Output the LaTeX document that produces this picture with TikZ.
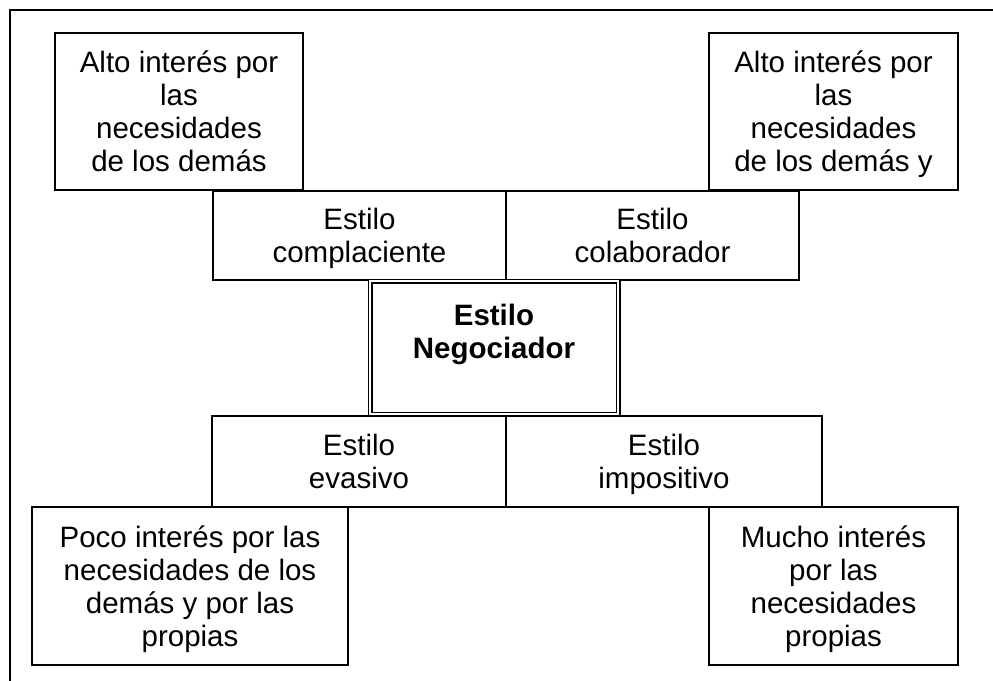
\documentclass[tikz,border=0pt]{standalone}
\usepackage{fontspec}
\setmainfont{Liberation Sans}
\usepackage{tikz}
\usetikzlibrary{calc}
\usetikzlibrary{positioning}

\tikzset{
  caja/.style 2 args={draw, line width=0.7pt, inner sep=0pt, outer sep=0pt,
    minimum width=#1, minimum height=#2, align=center, text depth=0pt,
    font=\fontsize{14.75}{16.5}\selectfont},
  cajadoble/.style={double, double distance=1.3pt, line width=0.6pt}
}

\begin{document}
\begin{tikzpicture}[x=0.5pt,y=-0.5pt]
        \useasboundingbox (0,0) rectangle (993,681);
        % marco exterior
        \draw[line width=0.7pt] (10,681) -- (10,10) -- (993,10);
        % cuadros de arriba
        \node[caja={124pt}{78.5pt}] (altoI) at (179,111.5) {Alto interés por\\las\\necesidades\\de los demás};
        \node[caja={124.5pt}{78.5pt}] (altoD) at (833.5,111.5) {Alto interés por\\las\\necesidades\\de los demás y};
        \node[caja={146.5pt}{44.5pt}] (compl) at (359.5,235.5) {Estilo\\complaciente};
        \node[caja={146.5pt}{44.5pt}] (colab) at (652.5,235.5) {Estilo\\colaborador};
        % centro
        \node[caja={124pt}{66.5pt}, cajadoble, text depth=16.5pt, font=\fontsize{14.75}{16.5}\selectfont\bfseries] (negoc) at (494,347.5) {Estilo\\Negociador};
        % cuadros de abajo
        \node[caja={147pt}{45.5pt}] (evas) at (359,461.5) {Estilo\\evasivo};
        \node[caja={158pt}{45.5pt}] (impos) at (664,461.5) {Estilo\\impositivo};
        \node[caja={158pt}{79pt}] (poco) at (190,586) {Poco interés por las\\necesidades de los\\demás y por las\\propias};
        \node[caja={124.5pt}{79pt}] (mucho) at (833.5,586) {Mucho interés\\por las\\necesidades\\propias};
      \end{tikzpicture}
\end{document}
